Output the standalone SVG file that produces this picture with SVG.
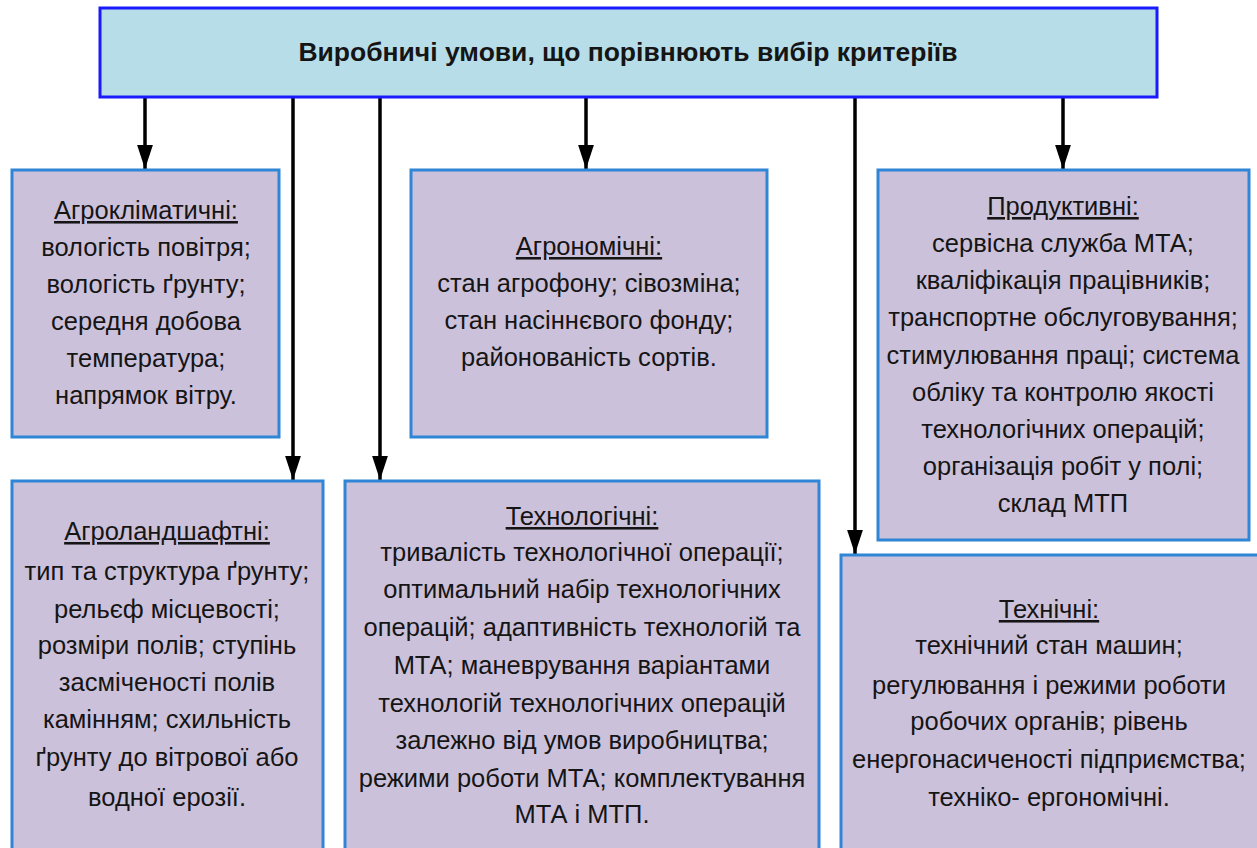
<svg xmlns="http://www.w3.org/2000/svg" width="1257" height="848" viewBox="0 0 1257 848">
<defs>
<style>
.top{fill:#b7dde8;stroke:#1a1aff;stroke-width:3}
.box{fill:#ccc1da;stroke:#2f86d6;stroke-width:3}
text{font-family:"Liberation Sans","Arial",sans-serif;font-size:25.5px;fill:#151515;text-anchor:middle}
.title{font-weight:bold;font-size:26.5px}
.u{text-decoration:underline}
.conn{stroke:#000;stroke-width:3.5;fill:none;marker-end:url(#ah)}
</style>
<marker id="ah" markerWidth="7" markerHeight="4.6" refX="7" refY="2.3" orient="auto" markerUnits="strokeWidth" viewBox="0 0 7 4.6">
<path d="M0,0 L7,2.3 L0,4.6 Z" fill="#000"/>
</marker>
</defs>
<rect width="1257" height="848" fill="#fff"/>
<g id="connectors">
<line class="conn" x1="145" y1="97" x2="145" y2="169"/>
<line class="conn" x1="293" y1="97" x2="293" y2="480"/>
<line class="conn" x1="380" y1="97" x2="380" y2="480"/>
<line class="conn" x1="586" y1="97" x2="586" y2="169"/>
<line class="conn" x1="855" y1="97" x2="855" y2="554"/>
<line class="conn" x1="1063" y1="97" x2="1063" y2="169"/>
</g>
<g id="top">
<rect class="top" x="100" y="8" width="1057" height="89"/>
<text class="title" x="628" y="61">Виробничі умови, що порівнюють вибір критеріїв</text>
</g>
<g id="agroklim">
<rect class="box" x="12" y="170" width="267" height="267"/>
<text x="146" y="219"><tspan class="u">Агрокліматичні:</tspan></text>
<text x="146" y="256">вологість повітря;</text>
<text x="146" y="293">вологість ґрунту;</text>
<text x="146" y="330">середня добова</text>
<text x="146" y="367">температура;</text>
<text x="146" y="404">напрямок вітру.</text>
</g>
<g id="agronom">
<rect class="box" x="411" y="170" width="356" height="267"/>
<text x="589" y="255"><tspan class="u">Агрономічні:</tspan></text>
<text x="589" y="292">стан агрофону; сівозміна;</text>
<text x="589" y="329">стан насіннєвого фонду;</text>
<text x="589" y="366">районованість сортів.</text>
</g>
<g id="produkt">
<rect class="box" x="878" y="170" width="371" height="370"/>
<text x="1063" y="215"><tspan class="u">Продуктивні:</tspan></text>
<text x="1063" y="252">сервісна служба МТА;</text>
<text x="1063" y="289">кваліфікація працівників;</text>
<text x="1063" y="326">транспортне обслуговування;</text>
<text x="1063" y="364">стимулювання праці; система</text>
<text x="1063" y="401">обліку та контролю якості</text>
<text x="1063" y="438">технологічних операцій;</text>
<text x="1063" y="475">організація робіт у полі;</text>
<text x="1063" y="512">склад МТП</text>
</g>
<g id="agroland">
<rect class="box" x="12" y="481" width="311" height="380"/>
<text x="167" y="540"><tspan class="u">Агроландшафтні:</tspan></text>
<text x="167" y="580">тип та структура ґрунту;</text>
<text x="167" y="618">рельєф місцевості;</text>
<text x="167" y="654">розміри полів; ступінь</text>
<text x="167" y="691">засміченості полів</text>
<text x="167" y="728">камінням; схильність</text>
<text x="167" y="766">ґрунту до вітрової або</text>
<text x="167" y="806">водної ерозії.</text>
</g>
<g id="technolog">
<rect class="box" x="345" y="481" width="474" height="380"/>
<text x="582" y="525"><tspan class="u">Технологічні:</tspan></text>
<text x="582" y="561">тривалість технологічної операції;</text>
<text x="582" y="598">оптимальний набір технологічних</text>
<text x="582" y="636">операцій; адаптивність технологій та</text>
<text x="582" y="674">МТА; маневрування варіантами</text>
<text x="582" y="712">технологій технологічних операцій</text>
<text x="582" y="749">залежно від умов виробництва;</text>
<text x="582" y="787">режими роботи МТА; комплектування</text>
<text x="582" y="823">МТА і МТП.</text>
</g>
<g id="technich">
<rect class="box" x="841" y="555" width="430" height="310"/>
<text x="1049" y="618"><tspan class="u">Технічні:</tspan></text>
<text x="1049" y="654">технічний стан машин;</text>
<text x="1049" y="694">регулювання і режими роботи</text>
<text x="1049" y="730">робочих органів; рівень</text>
<text x="1049" y="768">енергонасиченості підприємства;</text>
<text x="1049" y="806">техніко- ергономічні.</text>
</g>
</svg>
